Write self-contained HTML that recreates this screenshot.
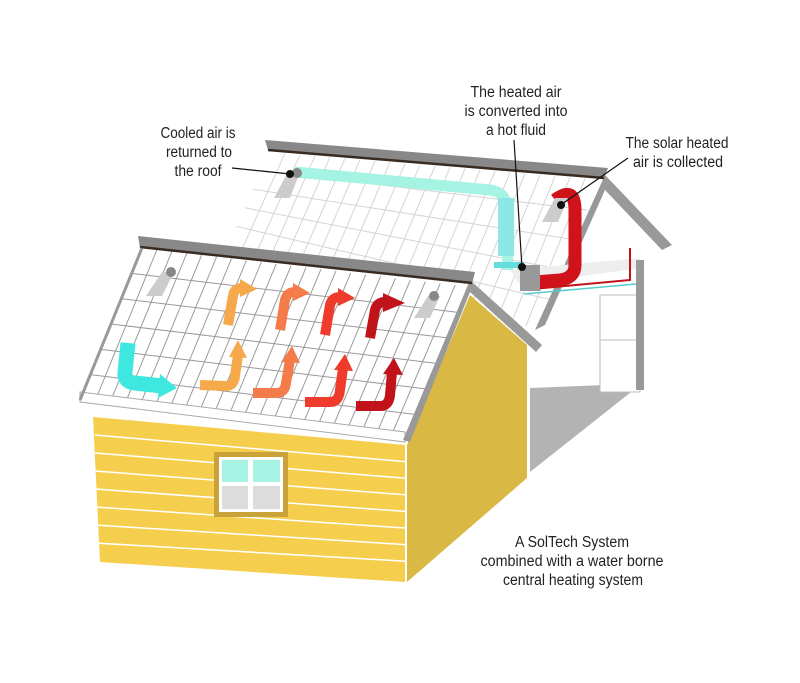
<!DOCTYPE html>
<html><head><meta charset="utf-8"><style>
body{margin:0;background:#fff;width:800px;height:683px;overflow:hidden}
svg{display:block}
text{font-family:"Liberation Sans Narrow","Liberation Sans",sans-serif;font-size:15.5px;fill:#222;text-anchor:middle}
</style></head><body>
<svg id="s" width="800" height="683" viewBox="0 0 800 683" xmlns="http://www.w3.org/2000/svg">
<defs><clipPath id="cb"><polygon points="270,150 600,178 540,330 228,245"/></clipPath><clipPath id="cf"><polygon points="142,245 470,285 405,440 80,400"/></clipPath></defs>
<polygon points="530,388 605,385 640,385 530,472" fill="#b3b3b3"/>
<rect x="600" y="295" width="40" height="45" fill="#fff" stroke="#bbb"/>
<rect x="600" y="340" width="40" height="52" fill="#fff" stroke="#bbb"/>
<polygon id="br" points="270,150 600,178 540,330 228,245" fill="#fff"/>
<g id="bgrid" stroke="#d4d4d4" stroke-width="1" clip-path="url(#cb)"></g>
<polygon points="605,175 672,245 662,250 605,190 545,325 535,330" fill="#999"/>
<polygon points="510,270 640,258 640,268 520,285" fill="#eee"/>
<line x1="640" y1="260" x2="640" y2="390" stroke="#999" stroke-width="8"/>
<polyline points="522,290 630,280 630,248" fill="none" stroke="#c0131a" stroke-width="2"/>
<polyline points="524,294 636,284" fill="none" stroke="#5cc" stroke-width="1.5"/>
<polygon points="265,140 608,168 604,178 268,150" fill="#888"/>
<line x1="268" y1="150" x2="604" y2="178" stroke="#3a2a20" stroke-width="2.5"/>
<path d="M295,172 L490,190 Q505,192 506,205 L508,270" fill="none" stroke="#a5f3e3" stroke-width="11"/>
<rect x="498" y="198" width="16" height="58" fill="#8ee6e8"/>
<rect x="494" y="262" width="30" height="6" fill="#6dd"/>
<path d="M555,200 Q575,185 575,210 L575,265 Q575,278 560,280 L535,282" fill="none" stroke="#d0121a" stroke-width="13"/>
<rect x="520" y="265" width="20" height="26" fill="#999"/>
<polygon points="288,172 300,172 290,198 274,198" fill="#ccc"/>
<circle cx="297" cy="173" r="5" fill="#888"/>
<polygon points="555,198 568,198 558,222 542,222" fill="#ccc"/>
<polygon points="407,445 470,295 527,345 527,478 407,582" fill="#d9b943"/>
<polygon points="93,417 405,445 405,582 100,562" fill="#f6ce4e"/>
<g stroke="#fff" stroke-width="1.5" id="wl"></g>
<rect x="214" y="452" width="74" height="65" fill="#c9a33a"/>
<rect x="219" y="457" width="64" height="55" fill="#fff"/>
<rect x="222" y="460" width="26" height="22" fill="#a5f3e3"/>
<rect x="253" y="460" width="27" height="22" fill="#a5f3e3"/>
<rect x="222" y="486" width="26" height="23" fill="#dcdcdc"/>
<rect x="253" y="486" width="27" height="23" fill="#dcdcdc"/>
<polygon id="fr" points="142,245 470,285 405,440 80,400" fill="#fff"/>
<g id="fgrid" stroke="#9a9a9a" stroke-width="1" clip-path="url(#cf)"></g>
<polygon points="80,392 405,432 405,442 80,402" fill="#fff" stroke="#aaa" stroke-width="1"/>
<polygon points="470,280 542,345 536,352 470,292 410,442 403,440" fill="#999"/>
<polygon points="138,236 475,272 472,284 140,248" fill="#888"/>
<line x1="140" y1="247" x2="472" y2="283" stroke="#3a2a20" stroke-width="2.5"/>
<line x1="142" y1="248" x2="80" y2="400" stroke="#999" stroke-width="3"/>
<polygon points="162,272 174,272 162,296 146,296" fill="#ccc"/>
<circle cx="171" cy="272" r="5" fill="#888"/>
<polygon points="428,296 440,296 430,318 414,318" fill="#ccc"/>
<circle cx="434" cy="296" r="5" fill="#888"/>
<g fill="none" stroke-width="10" stroke-linejoin="round">
<path d="M128,343 L125,372 Q124,382 135,383 L162,386" stroke="#3ee8e0" stroke-width="15"/>
<path d="M200,385 L226,386 Q234,386 235,376 L238,355" stroke="#f5a94a"/>
<path d="M228,325 L233,296 Q234,288 242,288 L240,288" stroke="#f5a94a"/>
<path d="M253,393 L276,393 Q285,393 286,383 L290,360" stroke="#f47b4a"/>
<path d="M280,330 L285,300 Q287,292 295,292" stroke="#f47b4a"/>
<path d="M305,402 L330,402 Q339,402 340,390 L343,368" stroke="#ee3b2b"/>
<path d="M325,335 L330,305 Q332,297 340,297" stroke="#ee3b2b"/>
<path d="M356,406 L380,406 Q389,406 390,395 L392,372" stroke="#c0131a"/>
<path d="M370,338 L375,310 Q377,302 385,302" stroke="#c0131a"/>
</g>
<g>
<polygon points="160,374 177,388 158,398" fill="#3ee8e0"/>
<polygon points="229,357 238,340 247,358" fill="#f5a94a"/><polygon points="240,279 257,289 240,297" fill="#f5a94a"/>
<polygon points="281,362 292,346 300,363" fill="#f47b4a"/><polygon points="293,283 310,293 293,301" fill="#f47b4a"/>
<polygon points="334,370 345,354 353,371" fill="#ee3b2b"/><polygon points="338,288 355,298 338,306" fill="#ee3b2b"/>
<polygon points="383,374 394,358 403,375" fill="#c0131a"/><polygon points="383,293 405,303 383,312" fill="#c0131a"/>
</g>
<g stroke="#111" stroke-width="1.2"><line x1="232" y1="168" x2="290" y2="174"/><line x1="514" y1="140" x2="522" y2="268"/><line x1="628" y1="158" x2="562" y2="204"/></g>
<circle cx="290" cy="174" r="4" fill="#111"/><circle cx="522" cy="267" r="4" fill="#111"/><circle cx="561" cy="205" r="4" fill="#111"/>
<g>
<text x="198" y="138" textLength="75" lengthAdjust="spacingAndGlyphs">Cooled air is</text>
<text x="199" y="157" textLength="66" lengthAdjust="spacingAndGlyphs">returned to</text>
<text x="198" y="176" textLength="47" lengthAdjust="spacingAndGlyphs">the roof</text>
<text x="516" y="97" textLength="91" lengthAdjust="spacingAndGlyphs">The heated air</text>
<text x="516" y="116" textLength="103" lengthAdjust="spacingAndGlyphs">is converted into</text>
<text x="516" y="135" textLength="60" lengthAdjust="spacingAndGlyphs">a hot fluid</text>
<text x="677" y="148" textLength="103" lengthAdjust="spacingAndGlyphs">The solar heated</text>
<text x="678" y="167" textLength="90" lengthAdjust="spacingAndGlyphs">air is collected</text>
<text x="572" y="547" textLength="114" lengthAdjust="spacingAndGlyphs">A SolTech System</text>
<text x="572" y="566" textLength="183" lengthAdjust="spacingAndGlyphs">combined with a water borne</text>
<text x="573" y="585" textLength="140" lengthAdjust="spacingAndGlyphs">central heating system</text>
</g>
</svg>
<script>
function L(g,a,b,c,d,col){var l=document.createElementNS("http://www.w3.org/2000/svg","line");l.setAttribute("x1",a);l.setAttribute("y1",b);l.setAttribute("x2",c);l.setAttribute("y2",d);if(col)l.setAttribute("stroke",col);document.getElementById(g).appendChild(l);}
function lp(p,q,t){return [p[0]+(q[0]-p[0])*t,p[1]+(q[1]-p[1])*t];}
function grid(g,A,B,C,D,nv,nh){for(var i=1;i<nv;i++){var t=i/nv,p=lp(A,B,t),q=lp(D,C,t);L(g,p[0],p[1],q[0],q[1]);}for(var j=1;j<nh;j++){var s=j/nh,p=lp(A,D,s),q=lp(B,C,s);L(g,p[0],p[1],q[0],q[1]);}}
grid("fgrid",[142,248],[470,287],[405,440],[80,400],22,6);
grid("bgrid",[270,152],[600,180],[540,330],[228,245],22,5);
for(var k=1;k<8;k++){var y=417+k*18;L("wl",95,y,405,y+28*(1-k*0.05));}
</script>
</body></html>
